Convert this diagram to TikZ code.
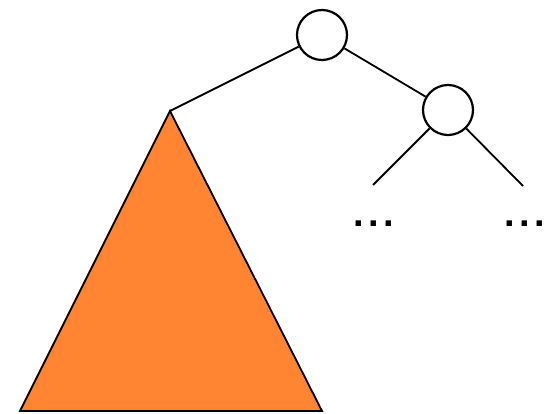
\documentclass[tikz,border=0pt]{standalone}
\usepackage{fontspec}
\setmainfont{Liberation Sans}
\newfontfamily\spaceddots[LetterSpace=11.6]{Liberation Sans}
\definecolor{subtree}{RGB}{255,133,51}
\begin{document}
\begin{tikzpicture}[x=1pt,y=-1pt,
  treenode/.style={circle,draw=black,line width=2.2pt,fill=white,minimum size=50pt,inner sep=0pt},
  edge/.style={draw=black,line width=1.8pt},
  dots/.style={anchor=base,inner sep=0pt,font=\spaceddots\bfseries\fontsize{38}{38}\selectfont}]
\useasboundingbox (0,0) rectangle (550,414);
\coordinate (apex) at (170,111);
\coordinate (bl) at (20,411);
\coordinate (br) at (322,411);
\coordinate (ll) at (373,185);
\coordinate (rl) at (523,186);
\draw[fill=subtree,draw=black,line width=1.8pt,line join=miter] (apex) -- (br) -- (bl) -- cycle;
\node[treenode] (root) at (322,35) {};
\node[treenode] (child) at (448,110) {};
\draw[edge] (apex) -- (root);
\draw[edge] (root) -- (child);
\draw[edge] (child) -- (ll);
\draw[edge] (child) -- (rl);
\node[dots] (d1) at (374,226.5) {...};
\node[dots] (d2) at (525,226.5) {...};
\end{tikzpicture}
\end{document}
